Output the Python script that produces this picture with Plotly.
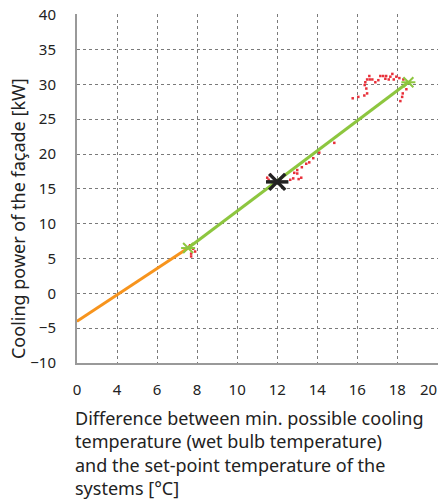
import plotly.graph_objects as go

# x axis is drawn with 2 units per gridline, first label reads "0"
TICK_VALS = [2, 4, 6, 8, 10, 12, 14, 16, 18, 20]
TICK_TEXT = ['0', '4', '6', '8', '10', '12', '14', '16', '18', '']
LAST_TICK = '20'  # drawn right-aligned so it stays inside the page

ORANGE_X = [2.0, 7.55]
ORANGE_Y = [-4.0, 6.5]
GREEN_X = [7.55, 18.55]
GREEN_Y = [6.5, 30.3]
DESIGN_X = [12.0]
DESIGN_Y = [16.0]

MEAS_X = [15.77, 16.05, 16.35, 16.49, 16.45, 16.37, 16.4, 16.49, 16.6, 16.62,
          16.75, 16.9, 17.05, 17.15, 17.29, 17.44, 17.4, 17.57, 17.65, 17.75,
          17.82, 17.95, 18.1, 18.3, 18.45, 18.27, 18.24, 18.15,
          14.85, 14.1, 13.8, 13.6, 13.45, 13.23, 13.0, 13.0, 12.85, 12.8,
          12.65, 13.07, 13.2, 11.65, 11.5, 11.57,
          7.65, 7.8, 7.9, 7.7, 7.7, 7.6]
MEAS_Y = [28.0, 28.2, 28.4, 28.7, 29.4, 29.9, 30.3, 30.7, 31.2, 30.7,
          30.7, 30.3, 30.6, 31.2, 31.2, 31.2, 30.8, 30.7, 31.1, 31.5,
          30.7, 31.1, 30.9, 30.7, 29.3, 28.7, 28.2, 27.6,
          21.6, 20.2, 19.4, 18.8, 18.6, 18.1, 17.7, 17.2, 17.3, 16.5,
          16.3, 16.4, 16.6, 17.0, 16.6, 16.3,
          6.9, 6.4, 6.0, 5.7, 5.3, 6.7]

FONT = 'Noto Sans, sans-serif'
GRID = '#7a7a7a'
GREEN = '#8dc63f'


def star(x, y, color, size, width):
    # six-armed star: a horizontal bar over a thin cross
    for sym in ('x-thin-open', 'line-ew-open'):
        fig.add_trace(go.Scatter(
            x=x, y=y, mode='markers', showlegend=False,
            marker=dict(symbol=sym, size=size, color=color,
                        line=dict(color=color, width=width))
        ))


fig = go.Figure()
fig.add_trace(go.Scatter(
    x=MEAS_X, y=MEAS_Y, mode='markers',
    marker=dict(symbol='square', size=2.5, color='#e8303a'),
    showlegend=False
))
fig.add_trace(go.Scatter(
    x=ORANGE_X, y=ORANGE_Y, mode='lines',
    line=dict(color='#f7941d', width=3), showlegend=False
))
fig.add_trace(go.Scatter(
    x=GREEN_X, y=GREEN_Y, mode='lines',
    line=dict(color=GREEN, width=3), showlegend=False
))
star(GREEN_X, GREEN_Y, GREEN, 10, 2)
star(DESIGN_X, DESIGN_Y, '#222222', 16, 3.5)

fig.add_annotation(
    xref='x', yref='paper', x=TICK_VALS[-1], y=-0.075,
    xanchor='right', yanchor='middle', xshift=2,
    text=LAST_TICK, showarrow=False,
    font=dict(family=FONT, size=15, color='#222222')
)
fig.add_annotation(
    xref='paper', yref='paper', x=-0.163, y=0.413,
    xanchor='center', yanchor='middle',
    text='Cooling power of the façade [kW]', textangle=-90,
    showarrow=False, font=dict(family=FONT, size=18, color='#222222')
)
fig.add_annotation(
    xref='paper', yref='paper', x=-0.012, y=-0.118,
    xanchor='left', yanchor='top', align='left',
    text=('Difference between min. possible cooling<br>'
          'temperature (wet bulb temperature)<br>'
          'and the set-point temperature of the<br>'
          'systems [°C]'),
    showarrow=False, font=dict(family=FONT, size=18, color='#222222')
)

fig.update_layout(
    width=439, height=502,
    margin=dict(l=77, r=1, t=14, b=139),
    paper_bgcolor='white', plot_bgcolor='white',
    font=dict(family=FONT, size=15, color='#222222'),
    xaxis=dict(
        range=[2, 20.03], tickvals=TICK_VALS, ticktext=TICK_TEXT,
        showgrid=True, gridcolor=GRID, griddash='dot', gridwidth=1,
        showline=True, linecolor='#999999', linewidth=2,
        ticks='', ticklabelstandoff=12, zeroline=False, automargin=False,
        ticklabeloverflow='allow'
    ),
    yaxis=dict(
        range=[-10, 40.1], tickvals=list(range(-10, 45, 5)),
        showgrid=True, gridcolor=GRID, griddash='dot', gridwidth=1,
        showline=True, linecolor='#999999', linewidth=2,
        ticks='', ticklabelstandoff=16, zeroline=False, automargin=False,
        ticklabeloverflow='allow'
    )
)

fig.write_html("out.html", config={'displayModeBar': False},
               post_script="document.body.style.margin='0';")
